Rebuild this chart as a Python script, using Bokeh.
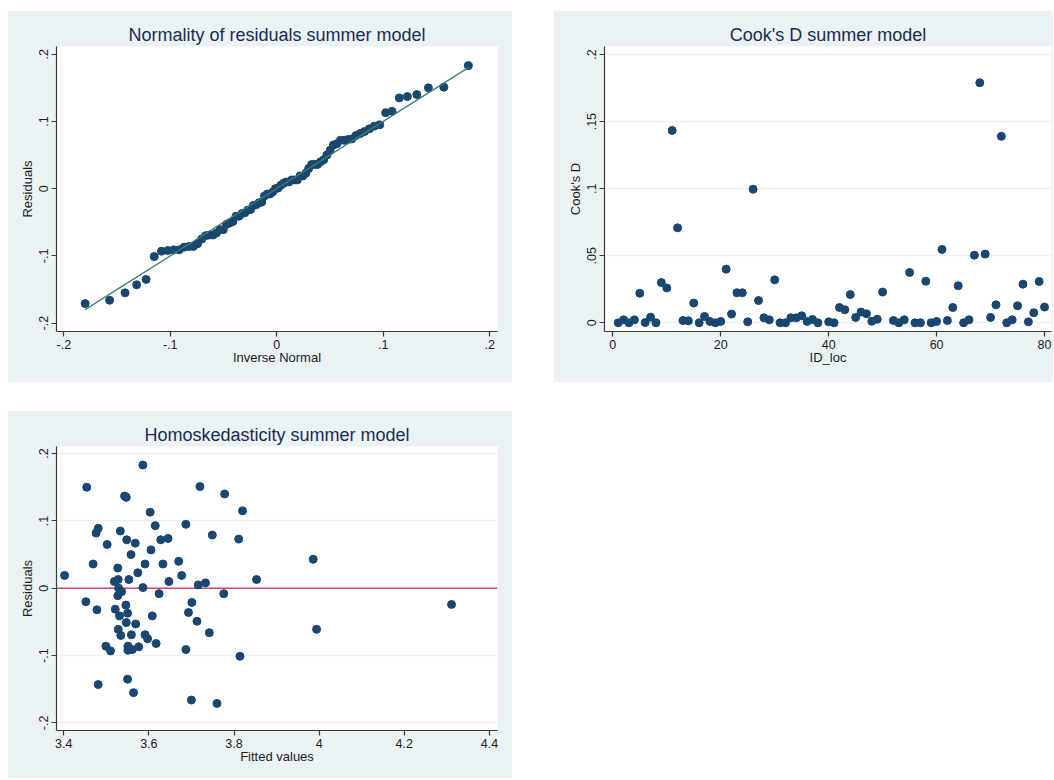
from bokeh.plotting import figure
from bokeh.models import Range1d, FixedTicker, CustomJSTickFormatter, Span, Spacer
from bokeh.layouts import column, row
from bokeh.embed import file_html
from bokeh.resources import INLINE

# ---------------- data ----------------
# Panel 1: normal quantile plot of residuals (inverse normal vs sorted residuals)
qn_inverse_normal = [
    -0.180, -0.157, -0.1425, -0.1316, -0.1227, -0.1151, -0.1083, -0.1023, -0.0968, -0.0917,
    -0.0870, -0.0825, -0.0784, -0.0744, -0.0705, -0.0669, -0.0634, -0.0599, -0.0566, -0.0533,
    -0.0502, -0.0471, -0.0442, -0.0412, -0.0383, -0.0355, -0.0328, -0.0300, -0.0273, -0.0246,
    -0.0219, -0.0193, -0.0167, -0.0141, -0.0115, -0.0089, -0.0064, -0.0038, -0.0013,
    0.0013, 0.0038, 0.0064, 0.0089, 0.0115, 0.0141, 0.0167, 0.0193, 0.0219, 0.0246,
    0.0273, 0.0300, 0.0328, 0.0355, 0.0383, 0.0412, 0.0442, 0.0471, 0.0502, 0.0533,
    0.0566, 0.0599, 0.0634, 0.0669, 0.0705, 0.0744, 0.0784, 0.0825, 0.0870, 0.0917,
    0.0968, 0.1023, 0.1083, 0.1151, 0.1227, 0.1316, 0.1425, 0.157, 0.180,
]
qn_residuals = [
    -0.171, -0.166, -0.155, -0.143, -0.135, -0.101, -0.093, -0.092, -0.091, -0.091,
    -0.087, -0.086, -0.086, -0.082, -0.075, -0.070, -0.069, -0.069, -0.066, -0.061,
    -0.061, -0.053, -0.051, -0.049, -0.041, -0.041, -0.037, -0.036, -0.032, -0.031,
    -0.025, -0.024, -0.021, -0.020, -0.011, -0.008, -0.008, -0.005,
    0.000, 0.001, 0.005, 0.008, 0.010, 0.010, 0.013, 0.013, 0.013, 0.019,
    0.019, 0.023, 0.030, 0.036, 0.036, 0.036, 0.040, 0.043, 0.050, 0.057,
    0.065, 0.067, 0.072, 0.072, 0.073, 0.074, 0.079, 0.082, 0.085, 0.089,
    0.093, 0.095, 0.113, 0.115, 0.135, 0.137, 0.140, 0.150, 0.151, 0.183,
]
ref_line_x = [-0.180, 0.180]
ref_line_y = [-0.180, 0.180]

# Panel 2: Cook's D by location id
id_loc = [1, 2, 3, 4, 5, 6, 7, 8, 9, 10, 11, 12, 13, 14, 15, 16, 17, 18, 19, 20,
          21, 22, 23, 24, 25, 26, 27, 28, 29, 30, 31, 32, 33, 34, 35, 36, 37, 38,
          40, 41, 42, 43, 44, 45, 46, 47, 48, 49, 50, 52, 53, 54, 55, 56, 57, 58,
          59, 60, 61, 62, 63, 64, 65, 66, 67, 68, 69, 70, 71, 72, 73, 74, 75, 76,
          77, 78, 79, 80]
cooks_d = [0.0000, 0.0022, 0.0000, 0.0022, 0.0220, 0.0002, 0.0042, 0.0000, 0.0300, 0.0260,
           0.1434, 0.0708, 0.0017, 0.0015, 0.0147, 0.0000, 0.0047, 0.0010, 0.0000, 0.0010,
           0.0400, 0.0065, 0.0224, 0.0224, 0.0007, 0.0996, 0.0166, 0.0037, 0.0022, 0.0320,
           0.0000, 0.0000, 0.0037, 0.0037, 0.0052, 0.0010, 0.0025, 0.0000,
           0.0007, 0.0000, 0.0114, 0.0097, 0.0210, 0.0040, 0.0080, 0.0067, 0.0012, 0.0027,
           0.0229, 0.0017, 0.0000, 0.0022, 0.0375, 0.0000, 0.0000, 0.0310,
           0.0000, 0.0010, 0.0547, 0.0017, 0.0114, 0.0276, 0.0000, 0.0022, 0.0504, 0.1790,
           0.0512, 0.0040, 0.0134, 0.1390, 0.0000, 0.0022, 0.0127, 0.0288,
           0.0007, 0.0075, 0.0308, 0.0117]

# Panel 3: fitted values vs residuals
fitted = [3.402, 3.454, 3.452, 3.469, 3.476, 3.481, 3.478, 3.481, 3.502, 3.499,
          3.510, 3.533, 3.527, 3.519, 3.528, 3.529, 3.536, 3.527, 3.521, 3.531,
          3.528, 3.534, 3.543, 3.547, 3.548, 3.553, 3.546, 3.550, 3.547, 3.559,
          3.551, 3.551, 3.561, 3.550, 3.564, 3.558, 3.568, 3.574, 3.569, 3.576,
          3.586, 3.586, 3.591, 3.591, 3.597, 3.603, 3.605, 3.608, 3.615, 3.617,
          3.624, 3.628, 3.633, 3.645, 3.647, 3.670, 3.677, 3.687, 3.693, 3.687,
          3.701, 3.700, 3.713, 3.716, 3.720, 3.733, 3.742, 3.749, 3.760, 3.776,
          3.778, 3.811, 3.814, 3.820, 3.853, 3.986, 3.994, 4.311]
residuals = [0.019, 0.150, -0.020, 0.036, 0.082, 0.089, -0.032, -0.143, 0.065, -0.086,
             -0.093, 0.085, 0.030, 0.010, 0.013, 0.000, -0.005, -0.011, -0.031, -0.041,
             -0.061, -0.070, 0.137, 0.135, 0.072, 0.013, -0.025, -0.037, -0.051, -0.069,
             -0.086, -0.092, -0.091, -0.135, -0.155, 0.050, 0.067, 0.023, -0.053, -0.087,
             0.183, 0.001, 0.036, -0.069, -0.075, 0.113, 0.057, -0.041, 0.093, -0.082,
             -0.008, 0.072, 0.036, 0.074, 0.010, 0.040, 0.019, 0.095, -0.036, -0.091,
             -0.021, -0.166, -0.049, 0.005, 0.151, 0.008, -0.066, 0.079, -0.171, -0.008,
             0.140, 0.073, -0.101, 0.115, 0.013, 0.043, -0.061, -0.024]
zero_line = 0.0

# tick positions
resid_ticks = [-0.2, -0.1, 0.0, 0.1, 0.2]
id_ticks = [0, 20, 40, 60, 80]
cook_ticks = [0.0, 0.05, 0.1, 0.15, 0.2]
fitted_ticks = [3.4, 3.6, 3.8, 4.0, 4.2, 4.4]

# ---------------- style ----------------
FONT = "Liberation Sans"
BG = "#eaf2f3"
NAVY = "#1a476f"
TITLE_C = "#1e2b52"
AXIS_C = "#3a3a3a"
TEXT_C = "#1c1c1c"

FMT = CustomJSTickFormatter(code="""
const v = Math.round(tick * 10000) / 10000;
let s = v.toString();
if (s.startsWith("0.")) { s = s.slice(1); }
else if (s.startsWith("-0.")) { s = "-" + s.slice(2); }
return s;
""")


def make_fig(title, w, h, xr, yr, borders):
    p = figure(width=w, height=h, title=title, x_range=Range1d(*xr), y_range=Range1d(*yr),
               output_backend="svg", toolbar_location=None,
               min_border_left=borders[0], min_border_right=borders[1],
               min_border_top=borders[2], min_border_bottom=borders[3])
    p.background_fill_color = "white"
    p.border_fill_color = BG
    p.outline_line_color = None
    p.title.text_font = FONT
    p.title.text_font_size = "18px"
    p.title.text_font_style = "normal"
    p.title.text_color = TITLE_C
    p.title.align = "center"
    p.title.standoff = 4
    return p


def style_axes(p, xticks, yticks, xlabel, ylabel, ygrid):
    p.xaxis.ticker = FixedTicker(ticks=xticks)
    p.yaxis.ticker = FixedTicker(ticks=yticks)
    p.xaxis.formatter = FMT
    p.yaxis.formatter = FMT
    p.xaxis.axis_label = xlabel
    p.yaxis.axis_label = ylabel
    for ax in (p.xaxis[0], p.yaxis[0]):
        ax.axis_line_color = AXIS_C
        ax.axis_line_width = 1.2
        ax.major_tick_line_color = AXIS_C
        ax.major_tick_line_width = 1.2
        ax.major_tick_in = 0
        ax.major_tick_out = 5
        ax.minor_tick_line_color = None
        ax.major_label_text_font = FONT
        ax.major_label_text_font_size = "12.5px"
        ax.major_label_text_color = TEXT_C
        ax.axis_label_text_font = FONT
        ax.axis_label_text_font_size = "13px"
        ax.axis_label_text_font_style = "normal"
        ax.axis_label_text_color = TEXT_C
    p.xaxis.major_label_standoff = 3
    p.xaxis.axis_label_standoff = -2
    p.yaxis.major_label_standoff = 3
    p.yaxis.axis_label_standoff = 2
    p.yaxis.major_label_orientation = "vertical"
    p.xgrid.visible = False
    if ygrid:
        p.ygrid.grid_line_color = BG
        p.ygrid.grid_line_width = 1.5
    else:
        p.ygrid.visible = False


# Panel 1
p1 = make_fig("Normality of residuals summer model", 505, 372,
              (-0.2069, 0.2074), (-0.2125, 0.2115), (49, 15, 36, 51))
style_axes(p1, resid_ticks, resid_ticks, "Inverse Normal", "Residuals", False)
p1.scatter(qn_inverse_normal, qn_residuals, size=8, color=NAVY, line_color=NAVY)
p1.line(ref_line_x, ref_line_y, line_color="#3b8070", line_width=1.3)

# Panel 2
p2 = make_fig("Cook's D summer model", 500, 372,
              (-1.54, 81.29), (-0.0065, 0.206), (51, 2, 36, 51))
style_axes(p2, id_ticks, cook_ticks, "ID_loc", "Cook's D", True)
p2.scatter(id_loc, cooks_d, size=8, color=NAVY, line_color=NAVY)

# Panel 3
p3 = make_fig("Homoskedasticity summer model", 505, 368,
              (3.383, 4.419), (-0.2112, 0.2105), (49, 15, 36, 48))
style_axes(p3, fitted_ticks, resid_ticks, "Fitted values", "Residuals", True)
p3.add_layout(Span(location=zero_line, dimension="width", line_color="#d0456a",
                   line_width=1.6, level="underlay"))
p3.scatter(fitted, residuals, size=8, color=NAVY, line_color=NAVY)

layout = column(Spacer(height=10),
                row(Spacer(width=7), p1, Spacer(width=41), p2),
                Spacer(height=28),
                row(Spacer(width=7), p3))

open("out.html", "w").write(file_html(layout, INLINE))
